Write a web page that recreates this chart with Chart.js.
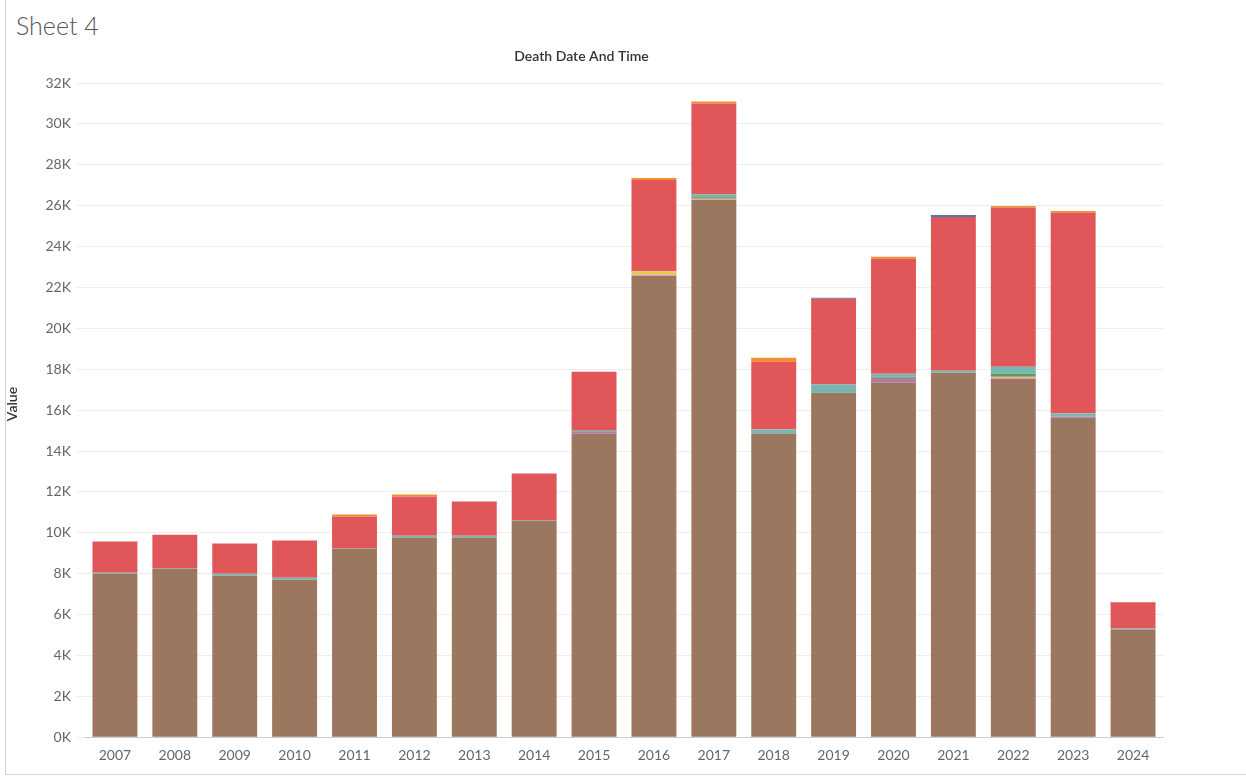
<!DOCTYPE html>
<html><head><meta charset="utf-8">
<script src="https://cdn.jsdelivr.net/npm/chart.js@4/dist/chart.umd.min.js"></script>
<style>
body{margin:0;background:#fff;font-family:Lato,"Open Sans",sans-serif;}
#frame{position:absolute;left:5px;top:0;width:1240px;height:774px;border-left:1px solid #d4d4d4;border-bottom:1px solid #d4d4d4;border-right:1px solid #d4d4d4;}
#sheet{position:absolute;left:16px;top:10px;font-size:25px;color:#555;font-weight:300;}
#wrap{position:absolute;left:0;top:0;width:1246px;height:776px;}
</style></head><body>
<div id="frame"></div>
<div id="sheet">Sheet 4</div>
<div id="wrap"><canvas id="c"></canvas></div>
<script>
const years=['2007','2008','2009','2010','2011','2012','2013','2014','2015','2016','2017','2018','2019','2020','2021','2022','2023','2024'];
// values in thousands
const brown =[8.0,8.25,7.9,7.7,9.23,9.77,9.77,10.6,14.85,22.57,26.28,14.85,16.85,17.34,17.83,17.54,15.63,5.27];
const pink  =[0,0,0,0,0,0,0,0,0,0.05,0.06,0,0,0,0,0.09,0,0];
const purple=[0,0,0,0,0,0,0,0,0.08,0,0,0,0,0.24,0,0,0.05,0];
const green =[0,0,0,0,0,0,0,0,0,0,0.08,0,0,0.05,0,0.15,0,0];
const teal  =[0.05,0.03,0.1,0.1,0.03,0.08,0.08,0.02,0.06,0.03,0.14,0.2,0.4,0.15,0.1,0.34,0.15,0.05];
const yellow=[0,0,0,0,0,0,0,0,0,0.15,0,0,0,0,0,0,0,0];
const red   =[1.52,1.62,1.48,1.82,1.54,1.92,1.68,2.28,2.89,4.46,4.44,3.32,4.2,5.62,7.52,7.78,9.82,1.28];
const orange=[0,0,0,0,0.1,0.1,0,0,0,0.1,0.1,0.19,0,0.1,0,0.09,0.09,0];
const blue  =[0,0,0,0,0,0,0,0,0,0,0,0,0.05,0,0.1,0,0,0];
const series=[['brown',brown,'#9c7760'],['pink',pink,'#ff9da7'],['purple',purple,'#b07aa1'],['green',green,'#59a14f'],['teal',teal,'#76b7b2'],['yellow',yellow,'#edc948'],['red',red,'#e15759'],['orange',orange,'#f28e2b'],['blue',blue,'#4e79a7']];
new Chart(document.getElementById('c'),{
 type:'bar',
 data:{labels:years,datasets:series.map(s=>({label:s[0],data:s[1],backgroundColor:s[2],categoryPercentage:0.75,barPercentage:1,borderWidth:0}))},
 options:{responsive:true,maintainAspectRatio:false,animation:false,
  layout:{padding:{top:48,right:83,bottom:10,left:0}},
  plugins:{legend:{display:false},tooltip:{enabled:false},
   title:{display:true,text:'Death Date And Time',color:'#333',font:{family:'Lato',size:14,weight:'600'},padding:{top:0,bottom:6}}},
  scales:{
   x:{stacked:true,grid:{display:false},border:{color:'#ccc'},ticks:{color:'#666',font:{family:'Lato',size:14},padding:2}},
   y:{stacked:true,min:0,max:32.6,afterFit:s=>{s.width=85;},
    grid:{color:'#eeeeee'},border:{display:false},
    afterBuildTicks:s=>{s.ticks=[];for(let v=0;v<=32;v+=2)s.ticks.push({value:v});},
    ticks:{color:'#666',font:{family:'Lato',size:14},callback:v=>v+'K',padding:6},
    title:{display:true,text:'Value',color:'#333',font:{family:'Lato',size:14,weight:'600'},padding:{bottom:6}}}
  }}
});
</script></body></html>
